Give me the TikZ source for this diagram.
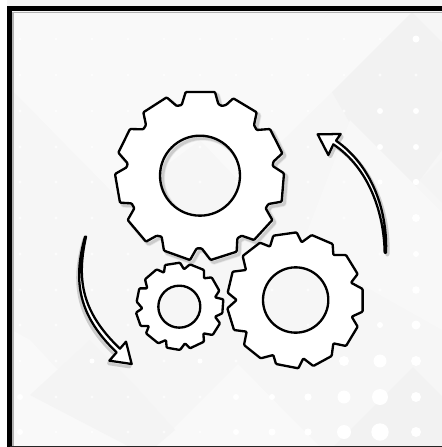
\documentclass[tikz,border=0pt]{standalone}
\begin{document}
\begin{tikzpicture}[x=0.75pt,y=-0.75pt,
  gearline/.style={draw=black,line width=1.75pt,line join=round,rounded corners=0.7pt},
  gearfill/.style={fill=white,even odd rule},
  softshadow/.style={draw=black!20,line width=2.2pt,line join=round,rounded corners=0.7pt},
  softshadowb/.style={draw=black!9,line width=3.4pt,line join=round,rounded corners=0.7pt},
  arrowline/.style={draw=black,line width=1.7pt,line join=round,fill=white},
  framerule/.style={draw=black,line width=4.1pt},
  dotmark/.style={fill=white}]
\definecolor{bgbase}{HTML}{F6F6F6}
\definecolor{bglight}{HTML}{F9F9F9}
\definecolor{bgdark}{HTML}{F2F2F2}
\useasboundingbox (0,0) rectangle (442,447);
% background
\fill[bgbase] (0,0) rectangle (442,447);
\fill[bglight] (12,12) -- (330,12) -- (240,110) -- (120,200) -- (12,90) -- cycle;
\fill[bglight] (330,12) -- (412,12) -- (332,92) -- (240,182) -- (200,140) -- cycle;
\fill[bgdark] (332,92) -- (412,12) -- (442,42) -- (442,150) -- (420,180) -- (400,210) -- cycle;
\fill[bglight!70!bgbase] (350,120) -- (442,212) -- (442,330) -- (300,250) -- cycle;
\fill[bgdark!60!bgbase] (420,180) -- (442,158) -- (442,202) -- cycle;
\fill[bgdark] (350,430) -- (413,367) -- (442,396) -- (442,447) -- (333,447) -- cycle;
\fill[bglight] (238,364) -- (320,447) -- (155,447) -- cycle;
\fill[bglight] (12,330) -- (30,340) -- (130,447) -- (12,447) -- cycle;
\fill[bgdark!50!bgbase] (90,340) -- (130,380) -- (175,430) -- (155,447) -- (130,447) -- (30,395) -- cycle;
\fill[white] (0,0) rectangle (7,447);
% dots
\foreach \dx in {20,56,92,128,164,200,236,272,308,344,380,416}
  \foreach \dy in {39,75,111,147,182,218,254,290,325,361,397,432}
    \fill[dotmark,opacity=.7] (\dx,\dy) circle (1.7);
\foreach \dx/\dy/\dr in {416/39/3.5,416/111/3,380/111/3,416/147/3,380/147/3,416/182/3.2,416/218/4,380/182/2.5,
  416/254/3,416/290/3.8,416/325/4.5,380/325/3,344/325/2.5,416/361/5,380/361/6.5,344/361/5,
  416/397/5,380/397/8,344/397/6.5,308/397/3.6,416/432/5,380/432/8.7,344/432/7,308/432/3.6,
  272/397/3,236/397/3,272/432/3.5,236/432/3,200/361/2.5,92/361/2.5,20/397/3,20/432/3}
  \fill[dotmark] (\dx,\dy) circle (\dr);
% frame
\draw[black!30,line width=1pt] (13,447) -- (13,12.5) -- (442,12.5);
\draw[framerule] (9.5,447) -- (9.5,8.75) -- (442,8.75);
\fill[black!85] (10,445.6) rectangle (442,447);
% paths
\def\biggear{(257,36) -- (345,36) -- (355,72) -- (365,78) -- (378,75) -- (400,55) -- (470,97) -- (462,135) -- (470,150) -- (510,147) -- (547,220) -- (520,245) -- (518,258) -- (552,280) -- (545,365) -- (505,372) -- (497,385) -- (517,420) -- (462,480) -- (425,467) -- (412,475) -- (410,515) -- (332,540) -- (305,505) -- (290,505) -- (270,540) -- (192,512) -- (185,470) -- (170,467) -- (138,485) -- (83,420) -- (103,385) -- (95,370) -- (60,368) -- (45,282) -- (80,262) -- (83,250) -- (55,218) -- (90,147) -- (130,148) -- (138,135) -- (130,97) -- (200,52) -- (230,78) -- (245,75) -- cycle (300,287) circle (120)}
\def\midgear{(68,408) -- (120,368) -- (150,380) -- (160,347) -- (230,337) -- (245,367) -- (275,345) -- (338,372) -- (340,405) -- (378,405) -- (413,462) -- (393,488) -- (428,507) -- (428,575) -- (395,590) -- (413,620) -- (378,678) -- (340,670) -- (335,708) -- (280,738) -- (250,715) -- (235,745) -- (168,732) -- (160,705) -- (122,715) -- (72,675) -- (80,635) -- (42,630) -- (22,565) -- (50,540) -- (23,518) -- (38,455) -- (78,450) -- cycle (227,540) circle (98)}
\def\smallgear{(315,135) -- (360,128) -- (372,148) -- (390,133) -- (432,150) -- (432,175) -- (455,172) -- (478,212) -- (465,232) -- (490,238) -- (487,280) -- (465,290) -- (480,310) -- (458,345) -- (430,340) -- (432,365) -- (390,385) -- (375,370) -- (360,390) -- (320,383) -- (318,360) -- (295,370) -- (258,340) -- (267,318) -- (242,318) -- (228,278) -- (247,265) -- (230,245) -- (238,205) -- (262,205) -- (255,178) -- (290,148) -- (312,158) -- cycle (358,260) circle (63)}
\def\downarrowpath{(75,50) .. controls (42,170) and (46,280) .. (170,397) -- (148,422) -- (215,432) -- (198,365) -- (180,386) .. controls (58,270) and (52,170) .. (78,50) -- cycle}
\def\uparrowpath{(498,398) .. controls (503,280) and (460,140) .. (348,62) -- (362,42) -- (293,43) -- (325,105) -- (340,73) .. controls (448,145) and (492,280) .. (494,398) -- cycle}
% big gear
\begin{scope}[shift={(100,80)},scale=1/3]
  \begin{scope}[shift={(8,8)}]
    \path[softshadowb] \biggear;
    \path[softshadow] \biggear;
  \end{scope}
  \path[gearfill] \biggear;
  \path[gearline] \biggear;
\end{scope}
% medium gear
\begin{scope}[shift={(220,120)},scale=1/3]
  \path[gearfill] \midgear;
  \path[gearline] \midgear;
\end{scope}
% small gear
\begin{scope}[shift={(60,220)},scale=1/3]
  \path[gearfill] \smallgear;
  \path[gearline] \smallgear;
\end{scope}
% left arrow
\begin{scope}[shift={(60,220)},scale=1/3]
  \begin{scope}[shift={(-4,9)}]
    \path[softshadow] \downarrowpath;
  \end{scope}
  \path[arrowline] \downarrowpath;
\end{scope}
% right arrow
\begin{scope}[shift={(220,120)},scale=1/3]
  \begin{scope}[shift={(6,7)}]
    \path[softshadow] \uparrowpath;
  \end{scope}
  \path[arrowline] \uparrowpath;
\end{scope}
\end{tikzpicture}
\end{document}
